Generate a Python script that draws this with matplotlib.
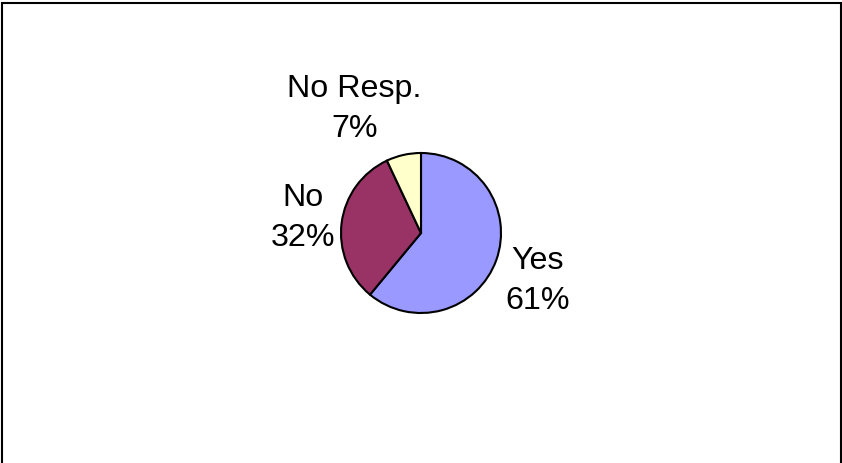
import matplotlib.pyplot as plt
from matplotlib.patches import Rectangle

labels = ['Yes', 'No', 'No Resp.']
shares = [61, 32, 7]
colors = ['#9999FF', '#993366', '#FFFFCC']

# label centres, in pie radii from the centre
label_pos = [(1.46, -0.60), (-1.47, 0.19), (-0.83, 1.55)]

plt.rcParams['font.family'] = ['Liberation Sans', 'DejaVu Sans']

fig = plt.figure(figsize=(8.42, 4.63), dpi=100)

# outer frame
fig.patches.append(Rectangle((2 / 842, -0.05), 839 / 842, (460 / 463) + 0.05,
                             transform=fig.transFigure, fill=False,
                             edgecolor='black', linewidth=1.5))

cx, cy, r = 421, 463 - 233, 80
ax = fig.add_axes([(cx - r) / 842, (cy - r) / 463, 2 * r / 842, 2 * r / 463])
ax.pie(shares, colors=colors, startangle=90, counterclock=False,
       wedgeprops=dict(edgecolor='black', linewidth=1.5))
ax.set_xlim(-1, 1)
ax.set_ylim(-1, 1)
ax.set_aspect('equal')
ax.axis('off')

for lab, val, (x, y) in zip(labels, shares, label_pos):
    ax.text(x, y, f'{lab}\n{val}%', ha='center', va='center',
            fontsize=23.2, linespacing=1.45, clip_on=False)

fig.savefig('out.png', dpi=100)
